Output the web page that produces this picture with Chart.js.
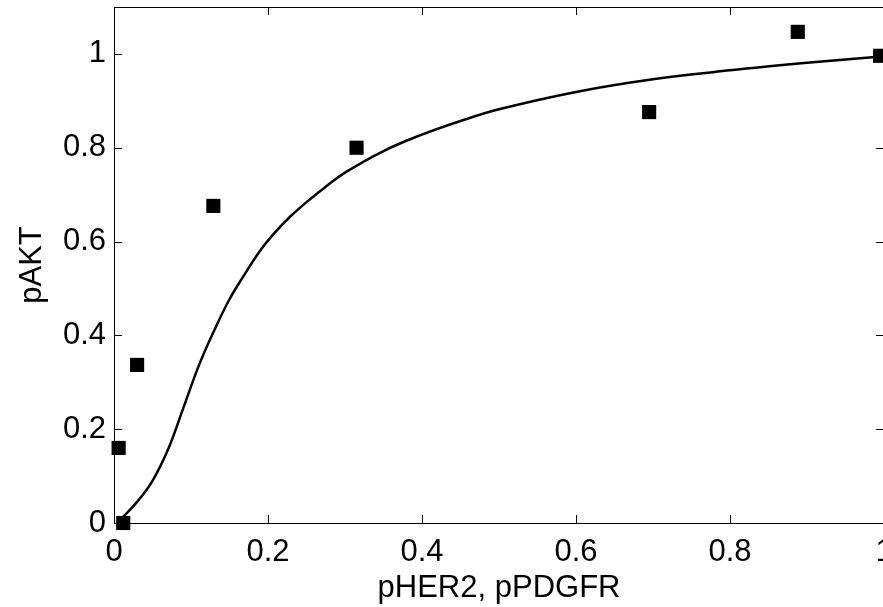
<!DOCTYPE html>
<html>
<head>
<meta charset="utf-8">
<script src="https://cdn.jsdelivr.net/npm/chart.js@4/dist/chart.umd.min.js"></script>
<style>
  html, body { margin: 0; padding: 0; background: #fff; overflow: hidden; }
  #wrap { position: absolute; left: 0; top: 0; width: 900px; height: 607px; }
</style>
</head>
<body>
<div id="wrap"><canvas id="chart"></canvas></div>
<script>
// measured points (squares)
const measX = [0.006, 0.012, 0.03, 0.129, 0.315, 0.695, 0.888, 0.995];
const measY = [0.16, 0.0, 0.337, 0.676, 0.80, 0.876, 1.047, 0.996];

// fitted curve
const fitX = [0.01, 0.03, 0.05, 0.07, 0.09, 0.11, 0.13, 0.15, 0.17, 0.19, 0.21, 0.23, 0.25,
              0.275, 0.3, 0.35, 0.4, 0.45, 0.5, 0.6, 0.7, 0.8, 0.9, 1.0];
const fitY = [0.01, 0.045, 0.09, 0.156, 0.245, 0.335, 0.41, 0.477, 0.531, 0.581, 0.621, 0.655, 0.684,
              0.717, 0.747, 0.793, 0.828, 0.857, 0.882, 0.919, 0.946, 0.965, 0.981, 0.995];

const xTicks = [0, 0.2, 0.4, 0.6, 0.8, 1];
const yTicks = [0, 0.2, 0.4, 0.6, 0.8, 1];

const FONT = "'Liberation Sans', Arial, sans-serif";

const toPts = (xs, ys) => xs.map((x, i) => ({ x: x, y: ys[i] }));

const noPad = (s) => {
    s.paddingTop = 0;
    s.paddingBottom = 0;
    s.paddingLeft = 0;
    s.paddingRight = 0;
};

// box round the plot with short inward ticks, like the original
const frame = {
    id: "frame",
    beforeDatasetsDraw(chart) {
        const { ctx, chartArea: a, scales } = chart;
        const len = 8;
        ctx.save();
        ctx.strokeStyle = "#000";
        ctx.lineWidth = 1;
        ctx.strokeRect(a.left + 0.5, a.top + 0.5, a.right - a.left, a.bottom - a.top);
        ctx.beginPath();
        xTicks.forEach((v) => {
            const px = Math.round(scales.x.getPixelForValue(v)) + 0.5;
            ctx.moveTo(px, a.bottom);
            ctx.lineTo(px, a.bottom - len);
            ctx.moveTo(px, a.top);
            ctx.lineTo(px, a.top + len);
        });
        yTicks.forEach((v) => {
            const py = Math.round(scales.y.getPixelForValue(v)) + 0.5;
            ctx.moveTo(a.left, py);
            ctx.lineTo(a.left + len, py);
            ctx.moveTo(a.right, py);
            ctx.lineTo(a.right - len, py);
        });
        ctx.stroke();
        ctx.restore();
    },
};

new Chart(document.getElementById("chart"), {
    type: "scatter",
    data: {
        datasets: [
            {
                label: "fit",
                type: "line",
                data: toPts(fitX, fitY),
                borderColor: "#000",
                borderWidth: 2.5,
                pointRadius: 0,
                tension: 0.4,
                fill: false,
                clip: false,
            },
            {
                label: "data",
                data: toPts(measX, measY),
                pointStyle: "rect",
                pointRadius: 10,
                pointHoverRadius: 10,
                backgroundColor: "#000",
                borderColor: "#000",
                borderWidth: 0,
                clip: false,
            },
        ],
    },
    plugins: [frame],
    options: {
        responsive: true,
        maintainAspectRatio: false,
        animation: false,
        events: [],
        layout: { autoPadding: false, padding: { top: 7, right: 16, left: 0, bottom: 0 } },
        scales: {
            x: {
                type: "linear",
                min: 0,
                max: 1,
                afterFit: (s) => { s.height = 84; noPad(s); },
                afterBuildTicks: (s) => { s.ticks = xTicks.map((v) => ({ value: v })); },
                grid: { display: false, drawTicks: false },
                border: { display: false },
                ticks: {
                    color: "#000",
                    font: { family: FONT, size: 31 },
                    padding: 11,
                    maxRotation: 0,
                    callback: (v) => String(v),
                },
                title: {
                    display: true,
                    text: "pHER2, pPDGFR",
                    color: "#000",
                    font: { family: FONT, size: 31 },
                    padding: { top: 0, bottom: 0 },
                },
            },
            y: {
                type: "linear",
                min: 0,
                max: 1.1,
                afterFit: (s) => { s.width = 114; noPad(s); },
                afterBuildTicks: (s) => { s.ticks = yTicks.map((v) => ({ value: v })); },
                grid: { display: false, drawTicks: false },
                border: { display: false },
                ticks: {
                    color: "#000",
                    font: { family: FONT, size: 31 },
                    padding: 8,
                    callback: (v) => String(v),
                },
                title: {
                    display: true,
                    text: "pAKT",
                    color: "#000",
                    font: { family: FONT, size: 31 },
                    padding: { top: 14, bottom: 0 },
                },
            },
        },
        plugins: {
            legend: { display: false },
            tooltip: { enabled: false },
        },
    },
});
</script>
</body>
</html>
